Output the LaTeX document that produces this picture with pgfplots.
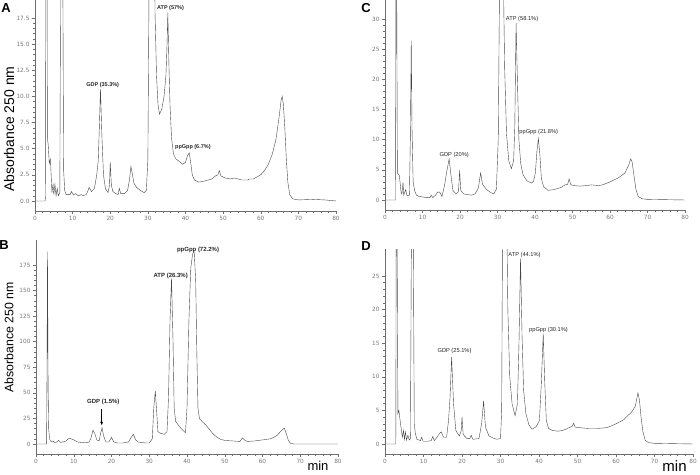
\documentclass[border=0pt]{standalone}
\usepackage{pgfplots}
\pgfplotsset{compat=1.18}
\usepackage{fontspec}
\setmainfont{Liberation Sans}
\newfontfamily\tickfont{DejaVu Sans}
\usetikzlibrary{arrows.meta}

\definecolor{trace}{RGB}{70,70,70}
\definecolor{axgray}{RGB}{110,110,110}
\definecolor{lblgray}{RGB}{120,120,120}

\tikzset{ann/.style={anchor=west, inner sep=0pt, text=black!85}}

\pgfplotsset{
  chrom/.style={
    scale only axis, anchor=south west,
    axis lines=left, axis line style={axgray, line width=0.5pt, -},
    xmin=0, xmax=80, xtick={0,10,...,80}, minor x tick num=4,
    minor y tick num=4,
    tick align=outside, tick style={axgray, line width=0.4pt},
    major tick length=3pt, minor tick length=1.8pt,
    ticklabel style={font=\tickfont\fontsize{5.8}{6}\selectfont, text=lblgray},
    xticklabel style={yshift=1pt}, yticklabel style={xshift=1pt},
    /pgf/number format/assume math mode=true,
    clip=true,
    cycle list={{trace, no marks, line width=0.65pt, line join=round}},
  },
}

\begin{document}
\begin{tikzpicture}
\useasboundingbox (0pt,0pt) rectangle (700pt,474pt);

% A
\begin{axis}[chrom, at={(35pt,263pt)}, width=301pt, height=211pt,
  ymin=-0.96, ymax=19.22, ytick={0,2.5,...,17.5},
  yticklabel style={/pgf/number format/.cd, fixed, fixed zerofill, precision=1}]
\addplot coordinates {(0,0)(2.7,0)(2.8,0.5)(2.9,30)(3.0,60)(3.15,30)(3.3,6)(3.5,5.4)(3.8,3.6)(4.1,4.0)(4.3,2.4)(4.5,0.8)(4.8,1.6)(5.0,0.6)(5.3,1.6)(5.6,0.5)(5.9,1.2)(6.2,0.5)(6.6,0.8)(6.9,30)(7.1,60)(7.3,30)(7.6,3)(7.9,1.0)(8.3,0.6)(9.3,0.6)(9.7,0.9)(10.2,0.6)(10.8,0.7)(11.5,0.5)(12.3,0.6)(12.8,0.5)(13.6,0.6)(14.0,0.9)(14.4,1.3)(15.0,0.9)(15.8,1.2)(16.4,2.5)(16.8,3.8)(17.1,7)(17.4,10.7)(17.8,6)(18.2,2.5)(18.7,1.2)(19.4,0.8)(19.8,1.5)(20.0,3.7)(20.3,1.5)(20.7,0.9)(21.5,0.7)(22.1,0.6)(22.4,1.2)(22.8,0.7)(23.8,0.7)(24.6,1.0)(25.1,2.0)(25.5,3.3)(25.9,2.5)(26.3,1.7)(27,1.3)(28,1.0)(29,0.8)(29.6,1.0)(30.0,4)(30.3,20)(30.7,60)(31.1,70)(31.5,40)(31.9,18)(32.3,12)(32.7,9.2)(33.1,8.3)(33.7,8.8)(34.3,10)(34.8,12)(35.1,15)(35.3,18.0)(35.6,13)(35.9,9)(36.3,6)(36.8,4.5)(37.5,4.0)(38.3,3.8)(39.2,3.5)(40.0,3.7)(40.5,4.3)(41.0,4.6)(41.4,3.6)(41.8,2.5)(42.4,2.0)(43.5,1.8)(45,1.9)(46,2.0)(47,2.1)(48,2.4)(48.6,2.5)(49.0,2.9)(49.4,2.4)(50.5,2.2)(52,2.1)(53,2.2)(55,2.0)(56.5,2.0)(57,2.1)(58,2.1)(59,2.3)(60,2.5)(61,2.9)(62,3.5)(63,4.4)(64,5.8)(64.8,7.8)(65.4,9.6)(65.7,10.0)(66.0,9.3)(66.4,7)(66.8,4)(67.2,1.8)(67.7,0.6)(68.5,0.2)(70,0.1)(74,0.15)(77,0.1)(80,0.0)};
\node[ann, font=\bfseries\fontsize{5.5}{6}\selectfont] at (axis cs:13.6,11.1) {GDP (35.3\%)};
\node[ann, font=\bfseries\fontsize{5.5}{6}\selectfont] at (axis cs:32.4,18.4) {ATP (57\%)};
\node[ann, font=\bfseries\fontsize{5.5}{6}\selectfont] at (axis cs:37.2,5.2) {ppGpp (6.7\%)};
\end{axis}

% C
\begin{axis}[chrom, at={(385pt,264pt)}, width=300pt, height=210pt,
  ymin=-1.66, ymax=33.15, ytick={0,5,...,30}]
\addplot coordinates {(0,0)(2.8,0)(2.9,30)(3.0,60)(3.15,30)(3.3,4.5)(3.5,4.3)(3.8,4.1)(4.0,3.0)(4.3,1.2)(4.5,1.0)(4.8,2.9)(5.0,0.8)(5.5,1.7)(5.9,0.7)(6.5,0.8)(6.75,10)(7.0,26.4)(7.2,12)(7.5,3)(7.9,1.5)(8.4,0.8)(9,0.6)(10,0.5)(11,0.4)(12.0,0.4)(12.3,0.8)(12.7,0.4)(13.5,0.8)(14.0,1.3)(14.6,1.3)(15.2,0.6)(15.9,2.5)(16.4,4.5)(17.1,6.8)(17.6,4.0)(18.1,1.6)(19,1.0)(19.6,1.4)(19.9,4.9)(20.2,1.6)(21,1.0)(22,0.9)(23,0.8)(24,1.0)(24.9,2.0)(25.5,4.5)(26.0,2.6)(27,1.8)(28,1.3)(29,1.0)(29.7,1.8)(30.2,10)(30.6,40)(31.0,60)(31.5,40)(31.9,22)(32.4,11)(33,6.5)(33.7,5.2)(34.3,6.5)(34.6,12)(34.95,29.3)(35.3,20)(35.7,10)(36.2,6)(36.8,4.2)(37.8,3.2)(39,2.8)(39.6,3.1)(40.1,4.5)(40.5,8)(40.9,10.2)(41.3,7.5)(41.7,3.5)(42.3,2.2)(43.5,1.6)(45,1.7)(46,1.9)(47,2.1)(48,2.5)(48.7,2.6)(49.1,3.5)(49.5,2.6)(50,2.4)(52,2.3)(54,2.4)(55,2.5)(57,2.4)(58,2.5)(60,3.0)(62,3.6)(63,4.0)(64,4.5)(65,5.8)(65.5,6.8)(65.9,6.3)(66.4,4)(66.9,1.8)(67.5,0.6)(68.5,0.2)(70,0.1)(80,0.0)};
\node[ann, font=\fontsize{5.7}{6}\selectfont] at (axis cs:14.5,7.5) {GDP (20\%)};
\node[ann, font=\fontsize{5.7}{6}\selectfont] at (axis cs:32.2,30.0) {ATP (58.1\%)};
\node[ann, font=\fontsize{5.7}{6}\selectfont] at (axis cs:35.8,11.2) {ppGpp (21.8\%)};
\end{axis}

% B
\begin{axis}[chrom, at={(36pt,20pt)}, width=302pt, height=214pt,
  ymin=-9.78, ymax=199.4, ytick={0,25,...,175}]
\addplot coordinates {(0,0)(2.8,0)(2.9,60)(3.05,188)(3.2,60)(3.35,15)(3.6,5)(4.0,2)(4.5,3)(5.0,1)(5.5,2)(6.0,3.5)(6.5,1.5)(7,2)(7.5,2.2)(8,3)(8.5,5)(9.0,5.5)(10,4)(11,2)(12,1.5)(13,1.2)(14,1.5)(14.5,5)(15.1,13.5)(15.6,10)(16.1,4)(16.7,3)(17.1,10)(17.5,16)(17.9,8)(18.5,2)(19.3,2)(20.0,6.5)(20.6,2)(21.5,1)(23,1)(24.5,2)(25.3,7)(25.8,9.5)(26.4,4)(27,2)(28,1.5)(29,1)(30,1)(30.8,5)(31.2,35)(31.6,52)(32.0,30)(32.3,12)(33,10.5)(34,9.5)(34.7,12)(35.1,45)(35.5,120)(35.9,162)(36.3,100)(36.6,35)(37,22)(38,17)(39,13)(39.6,11)(40.0,35)(40.5,120)(41.0,172)(41.5,186)(41.9,188)(42.3,160)(42.6,90)(42.9,35)(43.3,25)(44,22)(45,18.5)(46,14)(47,9.5)(48,6.5)(49,4.5)(50,3.5)(52,3)(54,2.5)(54.7,6)(55.2,4)(56,2.5)(58,3)(60,4)(62,5)(63,6.5)(64,9)(65,13)(65.8,15.5)(66.4,9)(66.9,3)(67.5,0.5)(68.5,0)(80,0)};
\node[ann, font=\bfseries\fontsize{6}{6}\selectfont] at (axis cs:13.5,41.4) {GDP (1.5\%)};
\node[ann, font=\bfseries\fontsize{6}{6}\selectfont] at (axis cs:31.1,164) {ATP (26.3\%)};
\node[ann, font=\bfseries\fontsize{6}{6}\selectfont] at (axis cs:37.3,190) {ppGpp (72.2\%)};
\draw[-{Stealth[length=3.5pt,width=3pt]}, line width=0.7pt, black] (axis cs:17.4,34) -- (axis cs:17.4,18.5);
\end{axis}

% D
\begin{axis}[chrom, at={(385pt,20pt)}, width=308pt, height=205pt,
  ymin=-1.49, ymax=29.0, ytick={0,5,...,25}]
\addplot coordinates {(0,0)(2.8,0)(2.9,30)(3.0,60)(3.15,30)(3.35,4.5)(3.6,5.0)(3.9,3.6)(4.2,2.3)(4.5,1.0)(4.8,2.0)(5.05,0.7)(5.3,1.8)(5.6,0.6)(5.95,1.3)(6.3,0.6)(6.6,0.8)(6.85,30)(7.1,60)(7.35,30)(7.6,3)(7.9,1.5)(8.3,0.7)(9.2,0.5)(9.5,1.0)(9.9,0.4)(11,0.4)(12,0.5)(12.4,1.1)(12.8,0.5)(13.5,1.0)(14.2,1.6)(14.6,1.8)(15.2,1.0)(16,1.0)(16.5,3.5)(16.9,7)(17.3,12.9)(17.8,6)(18.4,2)(19.3,1.2)(19.8,2)(20.0,4.0)(20.3,1.4)(21.3,0.8)(22.0,0.8)(22.4,1.3)(22.8,0.7)(24.4,0.8)(25.1,3)(25.6,6.4)(26.1,2.5)(27,1.2)(28,0.9)(29,0.7)(30,0.8)(30.3,5)(30.6,40)(31.0,70)(31.5,40)(31.9,20)(32.4,10)(33,6)(33.8,4.2)(34.4,6)(34.8,15)(35.2,27.6)(35.6,16)(36.0,8)(36.6,4.5)(37.4,2.8)(38.2,2.2)(39.3,2.6)(40.1,3.5)(40.6,9)(41.1,16.4)(41.5,9)(41.9,3.5)(42.5,2.3)(43.5,2.0)(45,1.9)(46,2.0)(47,2.2)(48,2.5)(48.6,2.6)(49.0,3.1)(49.4,2.5)(51,2.4)(53,2.3)(55,2.3)(57,2.4)(58,2.5)(60,3.0)(62,3.6)(63,4.2)(64,4.7)(65,5.6)(65.7,7.6)(66.1,6.5)(66.5,4)(67,1.8)(67.6,0.5)(68.5,0.2)(70,0.1)(80,0)};
\node[ann, font=\fontsize{5.7}{6}\selectfont] at (axis cs:13.6,13.8) {GDP (25.1\%)};
\node[ann, font=\fontsize{5.7}{6}\selectfont] at (axis cs:32.0,28.1) {ATP (44.1\%)};
\node[ann, font=\fontsize{5.7}{6}\selectfont] at (axis cs:37.4,17.0) {ppGpp (30.1\%)};
\end{axis}

% panel letters and axis titles
\node[font=\bfseries\fontsize{13}{13}\selectfont] at (6pt,466pt) {A};
\node[font=\bfseries\fontsize{13}{13}\selectfont] at (4pt,229pt) {B};
\node[font=\bfseries\fontsize{13}{13}\selectfont] at (366pt,466pt) {C};
\node[font=\bfseries\fontsize{13}{13}\selectfont] at (366pt,228pt) {D};
\node[rotate=90, font=\fontsize{14}{14}\selectfont] at (9pt,345pt) {Absorbance 250 nm};
\node[rotate=90, font=\fontsize{12.3}{12.3}\selectfont] at (9pt,136.5pt) {Absorbance 250 nm};
\node[font=\fontsize{13}{13}\selectfont] at (318pt,8pt) {min};
\node[font=\fontsize{15}{15}\selectfont] at (674.5pt,8pt) {min};
\end{tikzpicture}
\end{document}
